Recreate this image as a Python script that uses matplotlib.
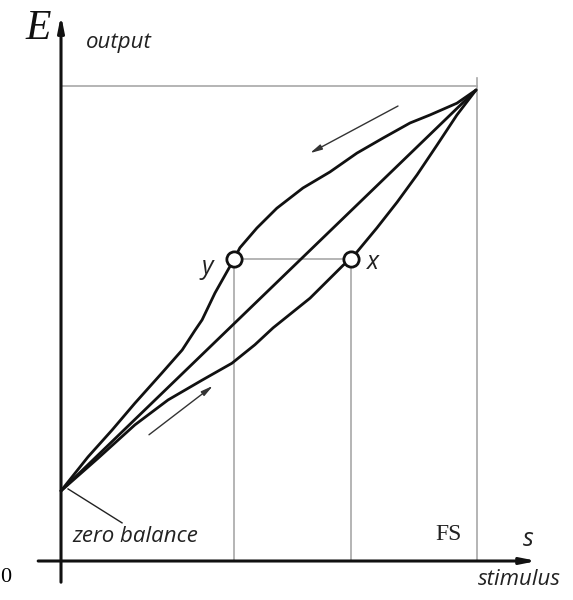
#!/usr/bin/env python3
"""
Hysteresis of a sensor transfer function: output E vs stimulus s.
Upper (descending) branch, lower (ascending) branch and the ideal line.
Saves out.png (573x600).
"""
import matplotlib
matplotlib.use("Agg")
import matplotlib.pyplot as plt

# --- data, stimulus in % of full scale, output in % of full-scale output ---
FS = 100.0

# descending branch (upper curve)
upper_s = [0.0, 6.5, 12.3, 17.8, 24.3, 29.2, 32.3, 34.0, 37.1, 41.7, 43.1, 47.2,
           52.0, 58.3, 64.8, 71.3, 77.6, 84.1, 88.9, 95.4, 100.0]
upper_E = [14.9, 22.1, 27.8, 33.5, 39.9, 44.8, 49.0, 51.2, 56.9, 64.1, 66.5, 70.7,
           74.9, 79.2, 82.6, 86.6, 89.8, 93.0, 94.7, 97.2, 100.0]

# ideal straight line
ideal_s = [0.0, 100.0]
ideal_E = [14.9, 100.0]

# ascending branch (lower curve)
lower_s = [0.0, 8.9, 17.8, 25.8, 34.0, 41.2, 46.7, 51.1, 60.0, 68.0, 69.9,
           71.3, 76.1, 81.0, 85.8, 90.6, 95.4, 100.0]
lower_E = [14.9, 21.8, 28.9, 34.2, 38.4, 42.0, 45.9, 49.5, 55.8, 62.8, 64.1,
           65.6, 70.7, 76.2, 82.0, 88.3, 94.7, 100.0]

# points y and x at the same output
pt_y = (41.7, 64.1)
pt_x = (69.9, 64.1)

# direction arrows (start, end)
arrow_down = ((81.2, 96.6), (60.0, 86.6))
arrow_up = ((21.2, 26.8), (36.6, 37.2))

BLACK = "#111111"
GRAY = "#a8a8a8"
SANS = ["Open Sans", "DejaVu Sans"]
SERIF = ["Liberation Serif", "DejaVu Serif"]

fig = plt.figure(figsize=(5.73, 6.0), dpi=100)
ax = fig.add_axes([0, 0, 1, 1])
ax.set_xlim(-14.70, 123.37)
ax.set_ylim(-8.28, 119.11)
ax.set_axis_off()

# guide lines
ax.plot([0, FS + 0.3], [100.8, 100.8], color=GRAY, lw=1.2, zorder=1)
ax.plot([FS + 0.3, FS + 0.3], [0, 102.5], color=GRAY, lw=1.2, zorder=1)
ax.plot([pt_y[0], pt_x[0]], [pt_y[1], pt_x[1]], color=GRAY, lw=1.2, zorder=1)
ax.plot([pt_y[0], pt_y[0]], [0, pt_y[1]], color=GRAY, lw=1.2, zorder=1)
ax.plot([pt_x[0], pt_x[0]], [0, pt_x[1]], color=GRAY, lw=1.2, zorder=1)

# axes with arrows
ax.annotate("", xy=(114.7, 0), xytext=(-5.5, 0),
            arrowprops=dict(arrowstyle="-|>,head_length=0.9,head_width=0.18",
                            color=BLACK, lw=2.2, shrinkA=0, shrinkB=0), zorder=3)
ax.annotate("", xy=(0, 115.9), xytext=(0, -4.5),
            arrowprops=dict(arrowstyle="-|>,head_length=0.9,head_width=0.18",
                            color=BLACK, lw=2.2, shrinkA=0, shrinkB=0), zorder=3)

# curves
for s, E in ((upper_s, upper_E), (ideal_s, ideal_E), (lower_s, lower_E)):
    ax.plot(s, E, color=BLACK, lw=2.0, solid_capstyle="round",
            solid_joinstyle="round", zorder=2)

# points
ax.plot([pt_y[0], pt_x[0]], [pt_y[1], pt_x[1]], "o", ms=11, mfc="white",
        mec=BLACK, mew=2.0, zorder=4)

# direction arrows
for (start, end) in (arrow_down, arrow_up):
    ax.annotate("", xy=end, xytext=start,
                arrowprops=dict(arrowstyle="-|>,head_length=0.7,head_width=0.16",
                                color="#333333", lw=1.0, shrinkA=0, shrinkB=0))

# zero balance pointer
ax.plot([1.7, 14.7], [15.3, 8.1], color="#222222", lw=1.0)

# labels
ax.text(-5.5, 113.0, "E", fontsize=30, family=SERIF, style="italic",
        ha="center", va="center", color=BLACK)
ax.text(6.0, 110.0, "output", fontsize=16, family=SANS, style="italic",
        ha="left", va="center", color="#222222")
ax.text(-13.3, -3.6, "0", fontsize=16, family=SERIF, ha="center", va="center")
ax.text(2.8, 5.2, "zero balance", fontsize=16, family=SANS, style="italic",
        ha="left", va="center", color="#222222")
ax.text(93.3, 5.6, "FS", fontsize=17, family=SERIF, ha="center", va="center",
        color="#222222")
ax.text(112.5, 4.5, "s", fontsize=18, family=SANS, style="italic",
        ha="center", va="center", color="#222222")
ax.text(120.5, -4.0, "stimulus", fontsize=16, family=SANS, style="italic",
        ha="right", va="center", color="#222222")
ax.text(pt_y[0] - 6.5, pt_y[1] - 1.8, "y", fontsize=18, family=SANS,
        style="italic", ha="center", va="center", color="#222222")
ax.text(pt_x[0] + 5.3, pt_x[1] - 0.8, "x", fontsize=18, family=SANS,
        style="italic", ha="center", va="center", color="#222222")

fig.savefig("out.png", dpi=100)
